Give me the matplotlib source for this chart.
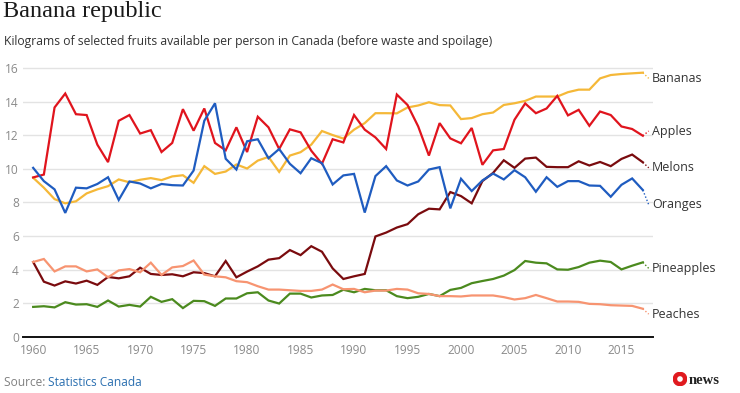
import matplotlib
matplotlib.use("Agg")
import matplotlib.pyplot as plt
from matplotlib.patches import Circle

years = list(range(1960, 2018))

bananas = [9.47, 8.88, 8.2, 7.95, 8.07, 8.54, 8.78, 8.97, 9.37, 9.2,
           9.35, 9.45, 9.33, 9.55, 9.62, 9.17, 10.16, 9.7, 9.84, 10.26,
           10.02, 10.49, 10.71, 9.82, 10.79, 10.99, 11.44, 12.25, 12.01, 11.8,
           12.33, 12.72, 13.31, 13.31, 13.3, 13.65, 13.77, 13.96, 13.79, 13.77,
           12.96, 13.02, 13.25, 13.35, 13.8, 13.9, 14.04, 14.3, 14.3, 14.3,
           14.56, 14.71, 14.71, 15.38, 15.58, 15.64, 15.68, 15.72]

apples = [9.49, 9.66, 13.65, 14.48, 13.25, 13.2, 11.44, 10.4, 12.86, 13.2,
          12.1, 12.3, 11.0, 11.54, 13.55, 12.27, 13.59, 11.54, 11.1, 12.47,
          11.0, 13.1, 12.47, 11.18, 12.35, 12.17, 11.08, 10.3, 11.76, 11.57,
          13.2, 12.33, 11.87, 11.18, 14.42, 13.8, 12.52, 10.79, 12.72, 11.81,
          11.52, 12.43, 10.24, 11.1, 11.18, 12.92, 13.89, 13.31, 13.59, 14.34,
          13.18, 13.51, 12.56, 13.41, 13.2, 12.52, 12.37, 11.97]

melons = [4.46, 3.29, 3.06, 3.31, 3.18, 3.35, 3.1, 3.57, 3.49, 3.61,
          4.12, 3.75, 3.69, 3.73, 3.61, 3.85, 3.8, 3.61, 4.52, 3.55,
          3.89, 4.2, 4.6, 4.69, 5.17, 4.87, 5.4, 5.07, 4.08, 3.45,
          3.61, 3.75, 5.98, 6.21, 6.51, 6.71, 7.3, 7.63, 7.59, 8.62,
          8.38, 7.95, 9.27, 9.76, 10.51, 10.06, 10.61, 10.67, 10.12, 10.1,
          10.1, 10.45, 10.2, 10.41, 10.16, 10.59, 10.85, 10.39]

oranges = [10.06, 9.27, 8.78, 7.38, 8.88, 8.84, 9.1, 9.5, 8.15, 9.25,
           9.13, 8.84, 9.1, 9.03, 9.01, 9.9, 12.86, 13.9, 10.6, 9.96,
           11.64, 11.76, 10.63, 11.18, 10.3, 9.74, 10.63, 10.34, 9.07, 9.61,
           9.7, 7.4, 9.57, 10.16, 9.31, 9.01, 9.25, 9.96, 10.1, 7.65,
           9.41, 8.68, 9.31, 9.72, 9.37, 9.92, 9.5, 8.64, 9.5, 8.93,
           9.27, 9.27, 9.01, 8.99, 8.34, 9.05, 9.43, 8.74]

pineapples = [1.79, 1.83, 1.76, 2.07, 1.93, 1.95, 1.79, 2.17, 1.81, 1.91,
              1.81, 2.39, 2.09, 2.25, 1.72, 2.15, 2.13, 1.85, 2.29, 2.29,
              2.6, 2.66, 2.17, 1.99, 2.58, 2.58, 2.35, 2.47, 2.5, 2.81,
              2.66, 2.86, 2.78, 2.78, 2.43, 2.31, 2.39, 2.56, 2.43, 2.8,
              2.92, 3.2, 3.33, 3.45, 3.65, 3.98, 4.52, 4.42, 4.38, 4.02,
              4.0, 4.16, 4.42, 4.54, 4.46, 4.02, 4.24, 4.44]

peaches = [4.46, 4.64, 3.9, 4.2, 4.2, 3.9, 4.02, 3.55, 3.96, 4.04,
           3.85, 4.42, 3.69, 4.14, 4.22, 4.55, 3.71, 3.61, 3.55, 3.32,
           3.26, 3.02, 2.82, 2.82, 2.78, 2.74, 2.74, 2.82, 3.12, 2.84,
           2.86, 2.66, 2.76, 2.76, 2.86, 2.82, 2.6, 2.56, 2.43, 2.43,
           2.41, 2.47, 2.47, 2.47, 2.37, 2.23, 2.31, 2.5, 2.31, 2.11,
           2.11, 2.09, 1.97, 1.95, 1.89, 1.87, 1.85, 1.68]

names = ["Bananas", "Apples", "Melons", "Oranges", "Pineapples", "Peaches"]
label_y = [15.38, 12.25, 10.06, 7.87, 4.08, 1.36]
colors = ["#f5b838", "#e0141d", "#7a0b0e", "#1f5cc0", "#4b8a1e", "#f79471"]
series = [bananas, apples, melons, oranges, pineapples, peaches]

x_ticks = [1960, 1965, 1970, 1975, 1980, 1985, 1990, 1995, 2000, 2005, 2010, 2015]
y_ticks = [0, 2, 4, 6, 8, 10, 12, 14, 16]

plt.rcParams["font.family"] = ["Open Sans", "DejaVu Sans"]

fig = plt.figure(figsize=(7.4, 3.93), dpi=100)
ax = fig.add_axes([23 / 740, 1 - 337 / 393, (653 - 23) / 740, (337 - 64.6) / 393])

for vals, col in zip(series, colors):
    ax.plot(years, vals, color=col, lw=1.6, solid_joinstyle="miter", zorder=3)

for vals, col, name, ly in zip(series, colors, names, label_y):
    ax.plot([years[-1], 2017.55], [vals[-1], ly], color=col, lw=1.0,
            ls=(0, (1, 1.5)), zorder=3, clip_on=False)
    ax.text(2017.85, ly, name, color="#333333", fontsize=9, va="center",
            ha="left", clip_on=False)

ax.set_xlim(1959.05, 2017.95)
ax.set_ylim(0, 16.2)
ax.set_xticks(x_ticks)
ax.set_yticks(y_ticks)
ax.grid(axis="y", color="#e3e3e3", lw=1.0, zorder=0)
ax.grid(axis="x", visible=False)
for s in ["top", "right", "left"]:
    ax.spines[s].set_visible(False)
ax.spines["bottom"].set_color("#111111")
ax.spines["bottom"].set_linewidth(1.4)
ax.spines["bottom"].set_zorder(4)
ax.tick_params(axis="x", length=0, pad=5, labelsize=8.6, labelcolor="#8a8a8a")
ax.tick_params(axis="y", length=0, pad=3, labelsize=8.6, labelcolor="#8a8a8a")

fig.text(3 / 740, 1 - 11 / 393, "Banana republic", fontsize=17.5,
         family=["Liberation Serif", "DejaVu Serif"], color="#1a1a1a",
         va="center", ha="left")
fig.text(4 / 740, 1 - 42 / 393,
         "Kilograms of selected fruits available per person in Canada (before waste and spoilage)",
         fontsize=8.7, color="#333333", va="center", ha="left")

t1 = fig.text(4 / 740, 1 - 382 / 393, "Source: ", fontsize=8.6, color="#808080",
              va="center", ha="left")
fig.canvas.draw()
bb = t1.get_window_extent()
fig.text(bb.x1 / 740, 1 - 382 / 393, "Statistics Canada", fontsize=8.6,
         color="#2a6fb0", va="center", ha="left")

# CBC news mark
logo_ax = fig.add_axes([673 / 740, 1 - 386 / 393, 14 / 740, 14 / 393])
logo_ax.set_xlim(-1, 1)
logo_ax.set_ylim(-1, 1)
logo_ax.set_aspect("equal")
logo_ax.axis("off")
logo_ax.add_patch(Circle((0, 0), 0.95, color="#e01a1f"))
logo_ax.add_patch(Circle((0, 0), 0.3, color="white"))
fig.text(689 / 740, 1 - 380 / 393, "news", fontsize=10.5, fontweight="bold",
         family=["Liberation Serif", "DejaVu Serif"], color="#222222",
         va="center", ha="left")

fig.savefig("out.png", dpi=100, facecolor="white")
